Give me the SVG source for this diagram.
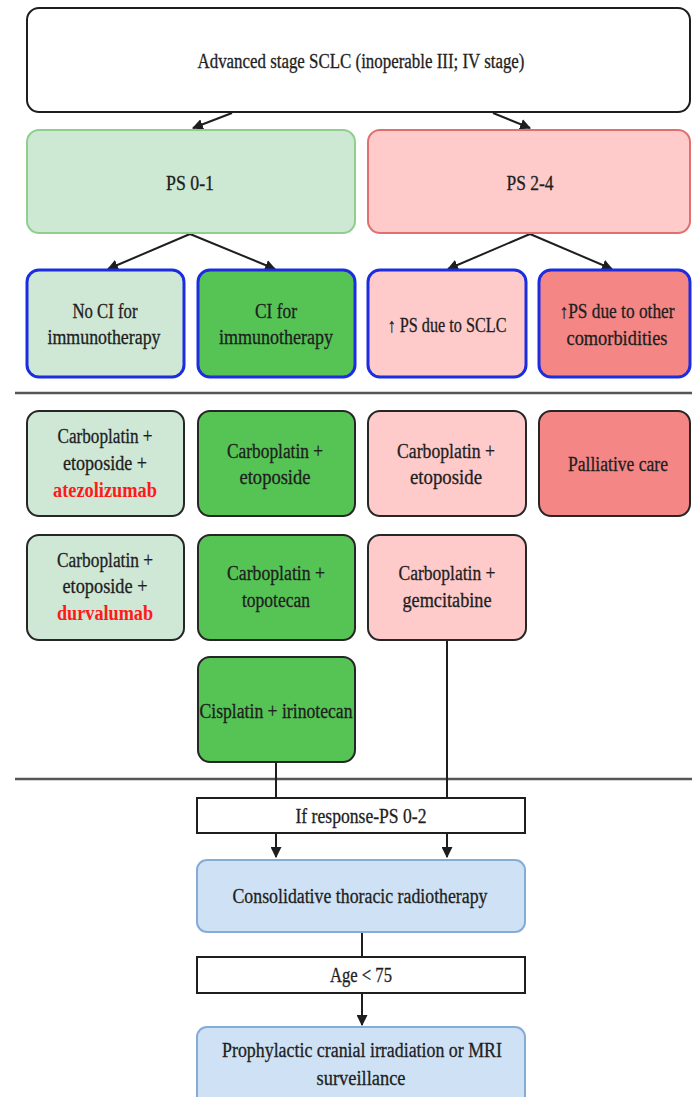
<svg xmlns="http://www.w3.org/2000/svg" width="692" height="1097" viewBox="0 0 692 1097">
<style>
text{font-family:"Liberation Serif","DejaVu Serif",serif;font-size:20px;fill:#1e1e1e;stroke:#1e1e1e;stroke-width:0.3;text-anchor:middle}
.red{fill:#ff1a1a;stroke:none;font-weight:bold}
.blk{stroke:#262626;stroke-width:2}
.blu{stroke:#1c2de0;stroke-width:3}
.lg{fill:#cfe7d5}
.dg{fill:#55c455}
.lr{fill:#ffcaca}
.dr{fill:#f58686}
.sky{fill:#cfe2f5;stroke:#86acd6;stroke-width:2}
.wh{fill:#fff;stroke:#1e1e1e;stroke-width:2}
.con{stroke:#1e1e1e;stroke-width:2;fill:none}
.sep{stroke:#555;stroke-width:2.5}
</style>
<defs>
<marker id="ah" viewBox="0 0 10 10" refX="9" refY="5" markerWidth="5.5" markerHeight="5.5" orient="auto-start-reverse" markerUnits="strokeWidth">
<path d="M0,0 L10,5 L0,10 z" fill="#1e1e1e"/>
</marker>
</defs>
<rect width="692" height="1097" fill="#fff"/>
<line class="sep" x1="15" y1="393" x2="692" y2="393"/>
<line class="sep" x1="15" y1="779" x2="692" y2="779"/>

<g id="connectors">
<line class="con" x1="232" y1="113" x2="193" y2="128" marker-end="url(#ah)"/>
<line class="con" x1="493" y1="113" x2="530" y2="128" marker-end="url(#ah)"/>
<line class="con" x1="190" y1="234" x2="108" y2="269" marker-end="url(#ah)"/>
<line class="con" x1="190" y1="234" x2="275" y2="269" marker-end="url(#ah)"/>
<line class="con" x1="530" y1="234" x2="448" y2="269" marker-end="url(#ah)"/>
<line class="con" x1="530" y1="234" x2="612" y2="269" marker-end="url(#ah)"/>
<line class="con" x1="447" y1="641" x2="447" y2="798"/>
<line class="con" x1="276" y1="763" x2="276" y2="798"/>
<line class="con" x1="276" y1="834" x2="276" y2="857" marker-end="url(#ah)"/>
<line class="con" x1="447" y1="834" x2="447" y2="857" marker-end="url(#ah)"/>
<line class="con" x1="362" y1="932" x2="362" y2="957"/>
<line class="con" x1="362" y1="994" x2="362" y2="1025" marker-end="url(#ah)"/>
</g>

<g id="n-top"><rect class="wh" x="27" y="8" width="663" height="104" rx="12"/>
<text x="361" y="68" textLength="327" lengthAdjust="spacingAndGlyphs">Advanced stage SCLC (inoperable III; IV stage)</text></g>

<g id="n-ps01"><rect x="27" y="130" width="328" height="103" rx="12" fill="#cde8d3" stroke="#8fce8f" stroke-width="2"/>
<text x="190" y="190" textLength="48" lengthAdjust="spacingAndGlyphs">PS 0-1</text></g>
<g id="n-ps24"><rect x="368" y="130" width="322" height="103" rx="12" fill="#ffcaca" stroke="#e07070" stroke-width="2"/>
<text x="530" y="190" textLength="47" lengthAdjust="spacingAndGlyphs">PS 2-4</text></g>

<g id="n-noci"><rect class="lg blu" x="27" y="270" width="157" height="107" rx="12"/>
<text x="105" y="318" textLength="65" lengthAdjust="spacingAndGlyphs">No CI for</text>
<text x="104" y="344" textLength="113" lengthAdjust="spacingAndGlyphs">immunotherapy</text></g>
<g id="n-ci"><rect class="dg blu" x="198" y="270" width="157" height="107" rx="12"/>
<text x="276" y="318" textLength="42" lengthAdjust="spacingAndGlyphs">CI for</text>
<text x="276" y="344" textLength="114" lengthAdjust="spacingAndGlyphs">immunotherapy</text></g>
<g id="n-pssclc"><rect class="lr blu" x="368" y="270" width="158" height="107" rx="12"/>
<text x="447" y="332" textLength="119" lengthAdjust="spacingAndGlyphs">↑ PS due to SCLC</text></g>
<g id="n-psother"><rect class="dr blu" x="539" y="270" width="151" height="107" rx="12"/>
<text x="617" y="318" textLength="115" lengthAdjust="spacingAndGlyphs">↑PS due to other</text>
<text x="617" y="345" textLength="101" lengthAdjust="spacingAndGlyphs">comorbidities</text></g>

<g id="n-atezo"><rect class="lg blk" x="27" y="411" width="157" height="105" rx="12"/>
<text x="105" y="443" textLength="95" lengthAdjust="spacingAndGlyphs">Carboplatin +</text>
<text x="105" y="470" textLength="84" lengthAdjust="spacingAndGlyphs">etoposide +</text>
<text class="red" x="105" y="497" textLength="104" lengthAdjust="spacingAndGlyphs">atezolizumab</text></g>
<g id="n-ce-g"><rect class="dg blk" x="198" y="411" width="157" height="105" rx="12"/>
<text x="275" y="458" textLength="96" lengthAdjust="spacingAndGlyphs">Carboplatin +</text>
<text x="275" y="484" textLength="71" lengthAdjust="spacingAndGlyphs">etoposide</text></g>
<g id="n-ce-r"><rect class="lr blk" x="368" y="411" width="158" height="105" rx="12"/>
<text x="446" y="458" textLength="98" lengthAdjust="spacingAndGlyphs">Carboplatin +</text>
<text x="446" y="484" textLength="72" lengthAdjust="spacingAndGlyphs">etoposide</text></g>
<g id="n-pall"><rect class="dr blk" x="539" y="411" width="151" height="105" rx="12"/>
<text x="618" y="471" textLength="100" lengthAdjust="spacingAndGlyphs">Palliative care</text></g>

<g id="n-durva"><rect class="lg blk" x="27" y="535" width="157" height="105" rx="12"/>
<text x="105" y="567" textLength="96" lengthAdjust="spacingAndGlyphs">Carboplatin +</text>
<text x="105" y="593" textLength="85" lengthAdjust="spacingAndGlyphs">etoposide +</text>
<text class="red" x="105" y="620" textLength="96" lengthAdjust="spacingAndGlyphs">durvalumab</text></g>
<g id="n-ct"><rect class="dg blk" x="198" y="535" width="157" height="105" rx="12"/>
<text x="276" y="580" textLength="98" lengthAdjust="spacingAndGlyphs">Carboplatin +</text>
<text x="276" y="607" textLength="68" lengthAdjust="spacingAndGlyphs">topotecan</text></g>
<g id="n-cg"><rect class="lr blk" x="368" y="535" width="158" height="105" rx="12"/>
<text x="447" y="580" textLength="97" lengthAdjust="spacingAndGlyphs">Carboplatin +</text>
<text x="447" y="607" textLength="89" lengthAdjust="spacingAndGlyphs">gemcitabine</text></g>

<g id="n-ci-iri"><rect class="dg blk" x="198" y="657" width="157" height="105" rx="12"/>
<text x="276" y="718" textLength="153" lengthAdjust="spacingAndGlyphs">Cisplatin + irinotecan</text></g>

<g id="n-resp"><rect class="wh" x="197" y="798" width="328" height="35"/>
<text x="361" y="823" textLength="131" lengthAdjust="spacingAndGlyphs">If response-PS 0-2</text></g>
<g id="n-ctr"><rect class="sky" x="197" y="860" width="328" height="72" rx="10"/>
<text x="360" y="903" textLength="255" lengthAdjust="spacingAndGlyphs">Consolidative thoracic radiotherapy</text></g>
<g id="n-age"><rect class="wh" x="197" y="957" width="328" height="36"/>
<text x="361" y="982" textLength="62" lengthAdjust="spacingAndGlyphs">Age &lt; 75</text></g>
<g id="n-pci"><rect class="sky" x="197" y="1027" width="328" height="80" rx="10"/>
<text x="362" y="1057" textLength="280" lengthAdjust="spacingAndGlyphs">Prophylactic cranial irradiation or MRI</text>
<text x="361" y="1085" textLength="89" lengthAdjust="spacingAndGlyphs">surveillance</text></g>
</svg>
